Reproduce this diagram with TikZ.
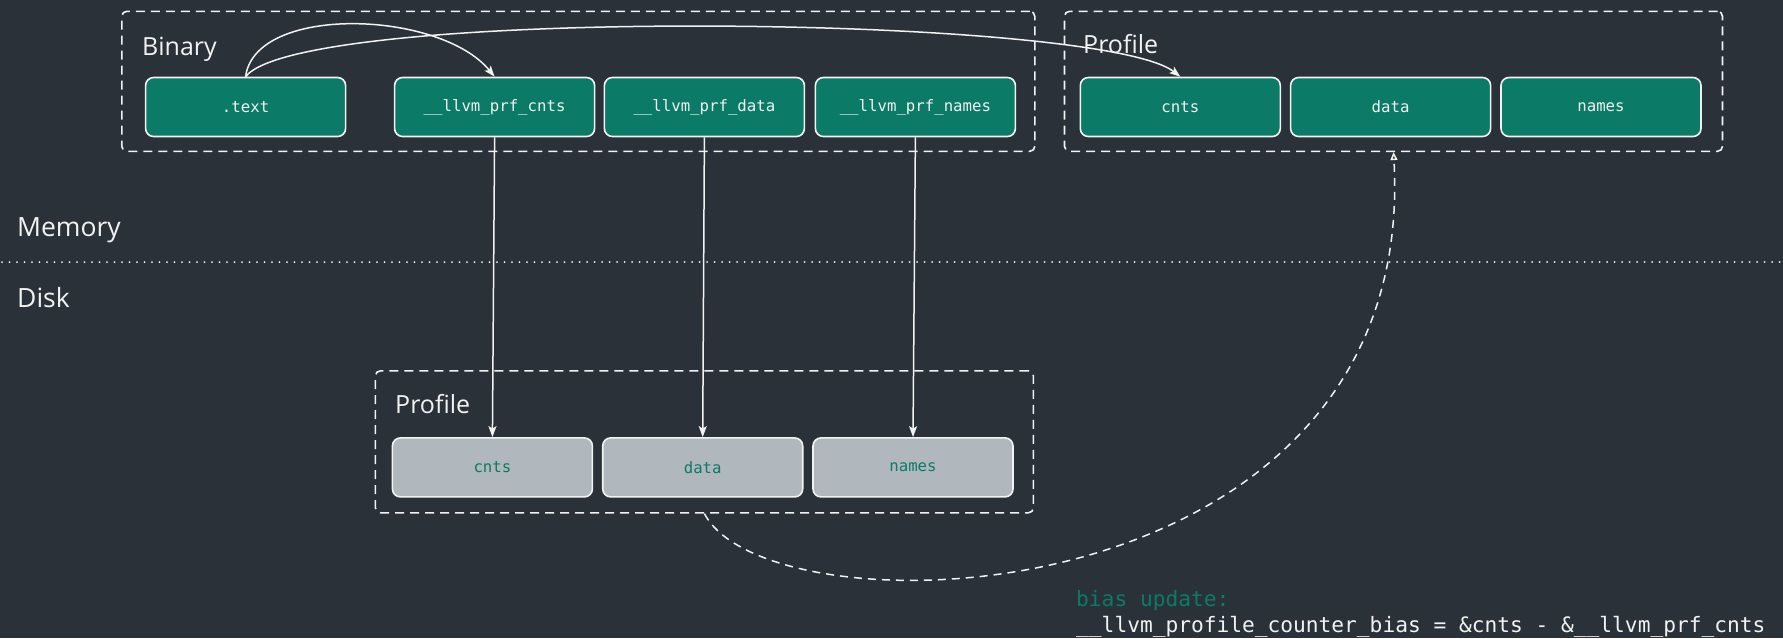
\documentclass[tikz,border=0pt]{standalone}
\usepackage{fontspec}
\setmainfont{Open Sans}
\setmonofont{DejaVu Sans Mono}
\usetikzlibrary{arrows.meta}

\definecolor{bgdark}{HTML}{2A3139}
\definecolor{secgreen}{HTML}{0B7A67}
\definecolor{diskgrey}{HTML}{B0B7BD}
\definecolor{inkwhite}{HTML}{F2F2F2}

\tikzset{
  secbox/.style={draw=inkwhite, line width=1.6pt, rounded corners=8pt, fill=secgreen,
    minimum width=200pt, minimum height=59pt, inner sep=0pt,
    text=inkwhite, font=\ttfamily\fontsize{15.7}{18}\selectfont},
  diskbox/.style={secbox, fill=diskgrey, text=secgreen},
  groupbox/.style={draw=inkwhite, line width=1.6pt, dash pattern=on 9pt off 6pt,
    rounded corners=5pt, inner sep=0pt},
  grouplabel/.style={anchor=base west, inner sep=0pt, text=inkwhite,
    font=\fontsize{25}{30}\selectfont},
  conn/.style={draw=inkwhite, line width=1.5pt,
    -{Stealth[length=11pt, width=8pt, inset=2.5pt]}},
  biasconn/.style={draw=inkwhite, line width=1.5pt, dash pattern=on 8pt off 6pt,
    -{Triangle[open, length=8pt, width=7pt, line width=1.5pt]}},
  codeline/.style={anchor=base west, inner sep=0pt,
    font=\ttfamily\fontsize{21.2}{26}\selectfont}
}

\begin{document}
\begin{tikzpicture}[x=1pt, y=-1pt]
  % canvas
  \fill[bgdark] (0,0) rectangle (1783,638);
  \useasboundingbox (0,0) rectangle (1783,638);

  % memory / disk boundary
  \draw[inkwhite, line width=2pt, line cap=round, dash pattern=on 0pt off 7.5pt]
    (2,262) -- (1783,262);
  \node[grouplabel, font=\fontsize{26.5}{30}\selectfont] (memlbl) at (17,236) {Memory};
  \node[grouplabel, font=\fontsize{26.5}{30}\selectfont] (disklbl) at (17,307) {Disk};

  % groups
  \node[groupbox, minimum width=913pt, minimum height=140pt] (binary) at (578.3,81.3) {};
  \node[groupbox, minimum width=658pt, minimum height=140pt] (memprof) at (1393.5,81.3) {};
  \node[groupbox, minimum width=658pt, minimum height=142pt] (diskprof) at (704.4,441.8) {};

  \node[grouplabel] (binlbl) at (142,55) {Binary};
  \node[grouplabel] (memproflbl) at (1083,53) {Profile};
  \node[grouplabel] (diskproflbl) at (395,413) {Profile};

  % binary sections
  \node[secbox] (text)  at (245.6,107) {.text};
  \node[secbox] (cnts)  at (494.6,107) {\_\_llvm\_prf\_cnts};
  \node[secbox] (data)  at (704.4,107) {\_\_llvm\_prf\_data};
  \node[secbox] (names) at (915.4,107) {\_\_llvm\_prf\_names};

  % in-memory profile
  \node[secbox] (mcnts)  at (1180.3,107) {cnts};
  \node[secbox] (mdata)  at (1390.6,107) {data};
  \node[secbox] (mnames) at (1601.0,107) {names};

  % on-disk profile
  \node[diskbox] (dcnts)  at (492.4,467.4) {cnts};
  \node[diskbox] (ddata)  at (702.7,467.4) {data};
  \node[diskbox] (dnames) at (913.0,467.4) {names};

  % references from .text
  \draw[conn] (text.north) .. controls (255,4) and (440,10) .. (cnts.north);
  \draw[conn] (text.north) .. controls (300,6) and (1100,14) .. (mcnts.north);

  % sections written to disk
  \draw[conn] (cnts.south) -- (dcnts.north);
  \draw[conn] (data.south) -- (ddata.north);
  \draw[conn] (names.south) -- (dnames.north);

  % bias update path
  \draw[biasconn] (diskprof.south) .. controls (770,640) and (1420,620) .. (memprof.south);

  \node[codeline, text=secgreen] (biaslbl) at (1076,606) {bias update:};
  \node[codeline, text=inkwhite] (biasexpr) at (1076,632)
    {\_\_llvm\_profile\_counter\_bias = \&cnts - \&\_\_llvm\_prf\_cnts};
\end{tikzpicture}
\end{document}
